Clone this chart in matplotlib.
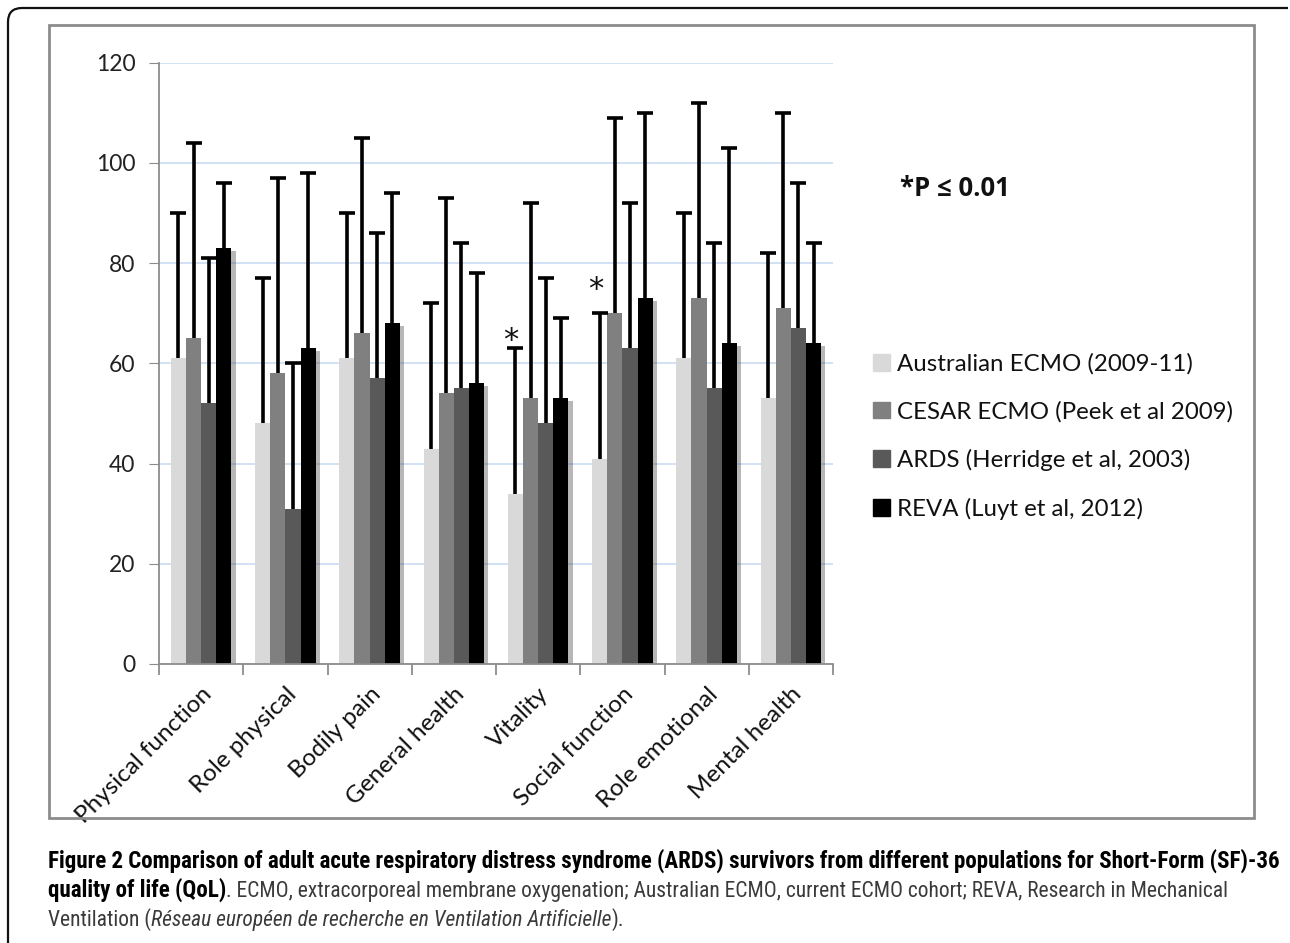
import matplotlib
matplotlib.use("Agg")
import matplotlib.pyplot as plt
import matplotlib.patheffects as pe
from matplotlib import font_manager as fm
from matplotlib.patches import Rectangle, PathPatch
from matplotlib.path import Path
from matplotlib.transforms import IdentityTransform
import numpy as np

categories = ["Physical function", "Role physical", "Bodily pain", "General health",
              "Vitality", "Social function", "Role emotional", "Mental health"]
series = ["Australian ECMO (2009-11)", "CESAR ECMO (Peek et al 2009)",
          "ARDS (Herridge et al, 2003)", "REVA (Luyt et al, 2012)"]

australian = [61, 48, 61, 43, 34, 41, 61, 53]
australian_top = [90, 77, 90, 72, 63, 70, 90, 82]
cesar = [65, 58, 66, 54, 53, 70, 73, 71]
cesar_top = [104, 97, 105, 93, 92, 109, 112, 110]
ards = [52, 31, 57, 55, 48, 63, 55, 67]
ards_top = [81, 60, 86, 84, 77, 92, 84, 96]
reva = [83, 63, 68, 56, 53, 73, 64, 64]
reva_top = [96, 98, 94, 78, 69, 110, 103, 84]

significant = ["Vitality", "Social function"]  # Australian ECMO, P <= 0.01

colors = ["#d9d9d9", "#808080", "#595959", "#000000"]

W, H = 1290, 943
plt.rcParams['font.family'] = ['Lato', 'DejaVu Sans']

fig = plt.figure(figsize=(W / 100, H / 100), dpi=100)
fig.patch.set_facecolor('white')

# outer page frame with rounded top-left corner
frame = Path([(8, H - 943), (8, H - 22), (8, H - 8), (22, H - 8), (1288, H - 8)],
             [Path.MOVETO, Path.LINETO, Path.CURVE3, Path.CURVE3, Path.LINETO])
fig.add_artist(PathPatch(frame, transform=IdentityTransform(), fill=False,
                         edgecolor='#111111', linewidth=1.6))

# chart box
fig.add_artist(Rectangle((49 / W, 1 - 818 / H), (1254 - 49) / W, (818 - 25) / H,
                         transform=fig.transFigure, fill=False,
                         edgecolor='#8c8c8c', linewidth=2))

ax = fig.add_axes([159 / W, 1 - 664 / H, (833 - 159) / W, (664 - 62.7) / H])
x = np.arange(len(categories))
bw = 0.18
vals = [australian, cesar, ards, reva]
tops = [australian_top, cesar_top, ards_top, reva_top]
for i, (v, t) in enumerate(zip(vals, tops)):
    xs = x + (i - 1.5) * bw
    bars = ax.bar(xs, v, width=bw, color=colors[i], zorder=2)
    if i == 3:
        for b in bars:
            b.set_path_effects([pe.SimplePatchShadow(offset=(3, -2), shadow_rgbFace='#333333', alpha=0.35),
                                pe.Normal()])
    up = np.array(t) - np.array(v)
    _, caps, _ = ax.errorbar(xs, v, yerr=[np.zeros(len(v)), up], fmt='none',
                             ecolor='black', elinewidth=2.6, capsize=6,
                             capthick=2.6, zorder=4)
    caps[0].set_visible(False)

# significance stars on Australian ECMO
star_offsets = [-5, 7]
for name, off in zip(significant, star_offsets):
    k = categories.index(name)
    ax.annotate('*', (x[k] - 1.5 * bw, australian_top[k]), xytext=(-3, off),
                textcoords='offset points', ha='center', va='bottom',
                fontsize=22, color='#111111', zorder=5, family='DejaVu Sans')

ax.set_xlim(-0.5, len(categories) - 0.5)
ax.set_ylim(0, 120)
ax.set_yticks(range(0, 121, 20))
ax.yaxis.grid(True, color='#c6d9f1', linewidth=1.1)
ax.set_axisbelow(True)
for s in ['top', 'right']:
    ax.spines[s].set_visible(False)
for s in ['left', 'bottom']:
    ax.spines[s].set_color('#8c8c8c')
    ax.spines[s].set_linewidth(1.3)
ax.tick_params(axis='y', length=7, color='#8c8c8c', labelsize=16.5,
               labelcolor='#222222', pad=10)
ax.set_xticks(x)
ax.set_xticklabels(categories, rotation=45, ha='right', va='top',
                   rotation_mode='anchor', fontsize=17.5, color='#111111')
ax.tick_params(axis='x', which='major', length=0, pad=14)
ax.set_xticks(np.arange(-0.5, len(categories), 1), minor=True)
ax.tick_params(axis='x', which='minor', length=8, color='#8c8c8c', width=1.3)

fig.text(900 / W, 1 - 188 / H, '*P \u2264 0.01', fontsize=18.5, fontweight='bold',
         va='center', ha='left', color='#111111', family=['Open Sans', 'DejaVu Sans'])

handles = [Rectangle((0, 0), 1, 1, color=c) for c in colors]
fig.legend(handles=handles, labels=series, loc='upper left',
           bbox_to_anchor=(873 / W, 1 - 353 / H), frameon=False, fontsize=17.3,
           handlelength=0.7, handleheight=0.7, handletextpad=0.3,
           labelspacing=1.1, borderpad=0, borderaxespad=0, labelcolor='#111111')

# caption
names = {f.name for f in fm.fontManager.ttflist}
cap_font = 'Lato'
for cand in ['Liberation Sans Narrow', 'DejaVu Sans Condensed', 'Roboto Condensed']:
    if cand in names:
        cap_font = cand
        break

line1 = ("Figure 2 Comparison of adult acute respiratory distress syndrome (ARDS) "
         "survivors from different populations for Short-Form (SF)-36")
line2b = "quality of life (QoL)"
line2r = (". ECMO, extracorporeal membrane oxygenation; Australian ECMO, current ECMO cohort; "
          "REVA, Research in Mechanical")
renderer = fig.canvas.get_renderer()


def width_at(txt, size, **kw):
    t = fig.text(0, 0, txt, fontsize=size, family=cap_font, **kw)
    w = t.get_window_extent(renderer).width
    t.remove()
    return w


bold_size = 10 * (1282 - 48) / width_at(line1, 10, fontweight='bold')
wb = width_at(line2b, bold_size, fontweight='bold')
reg_size = 10 * (1228 - 48 - wb) / width_at(line2r, 10)

grey = '#3a3a3a'
cap_lines = [
    (868, [(line1, 'bold', 'normal', 'black', bold_size)]),
    (897, [(line2b, 'bold', 'normal', 'black', bold_size),
           (line2r, 'normal', 'normal', grey, reg_size)]),
    (926, [("Ventilation (", 'normal', 'normal', grey, reg_size),
           ("R\u00e9seau europ\u00e9en de recherche en Ventilation Artificielle", 'normal', 'italic', grey, reg_size),
           (").", 'normal', 'normal', grey, reg_size)]),
]
for yb, parts in cap_lines:
    xp = 48
    for txt, wt, st, col, sz in parts:
        t = fig.text(xp / W, 1 - yb / H, txt, fontsize=sz, fontweight=wt,
                     fontstyle=st, color=col, family=cap_font, va='baseline', ha='left')
        xp += t.get_window_extent(renderer).width

fig.savefig('out.png', dpi=100, facecolor='white')
